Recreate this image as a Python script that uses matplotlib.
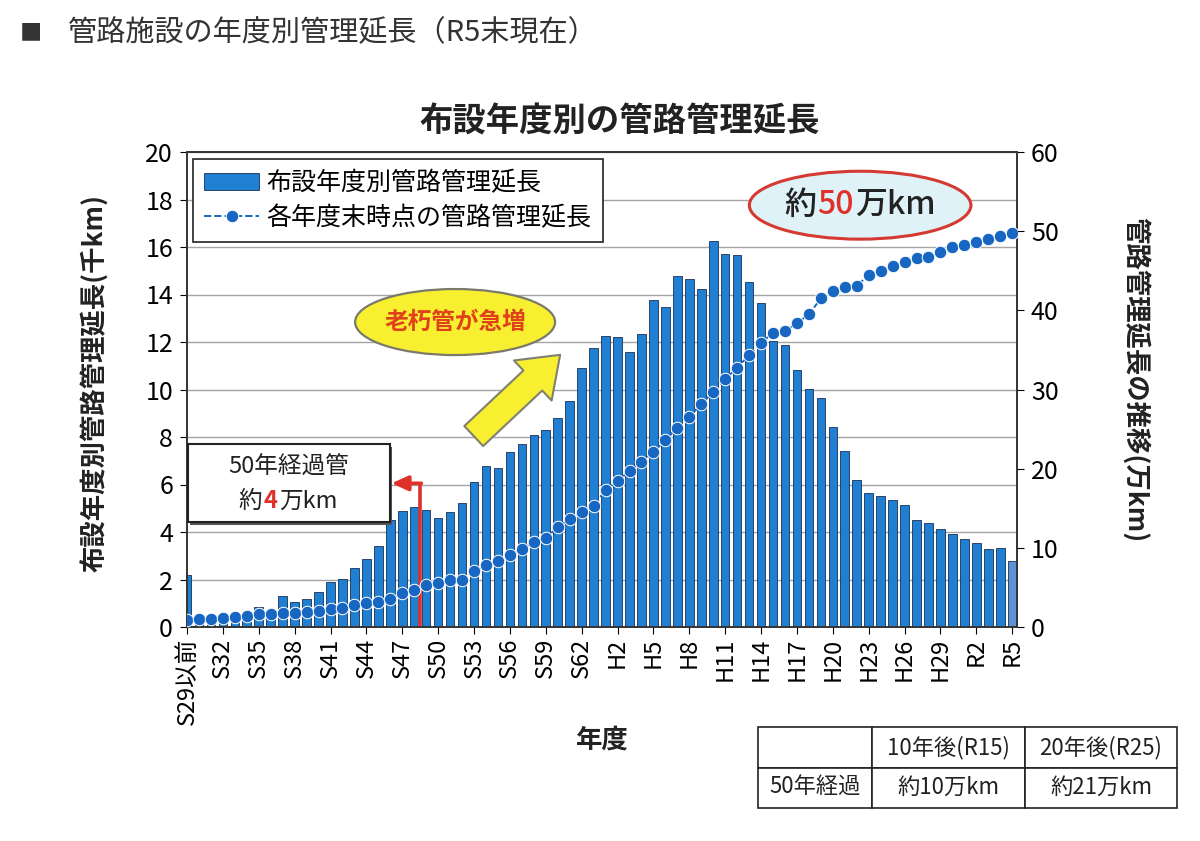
#!/usr/bin/env python3
"""管路施設の年度別管理延長 (R5末現在) chart."""

import matplotlib

matplotlib.use("Agg")
import matplotlib.pyplot as plt
from matplotlib.patches import Ellipse, Rectangle, FancyArrowPatch
from matplotlib.offsetbox import TextArea, HPacker, AnnotationBbox

plt.rcParams["font.family"] = ["Noto Sans CJK JP", "DejaVu Sans"]

# 布設年度 categories
YEARS = (
    ["S29以前"]
    + [f"S{n}" for n in range(30, 64)]
    + [f"H{n}" for n in range(1, 31)]
    + [f"R{n}" for n in range(1, 6)]
)

# 布設年度別管路管理延長 (千km)
LAID = [
    2.2, 0.3, 0.3, 0.4, 0.4, 0.5, 0.85, 0.5, 1.3, 1.05,
    1.18, 1.48, 1.88, 2.04, 2.47, 2.86, 3.41, 4.49, 4.87, 5.05,
    4.91, 4.6, 4.84, 5.24, 6.12, 6.77, 6.7, 7.37, 7.69, 8.1,
    8.31, 8.81, 9.5, 10.9, 11.75, 12.25, 12.2, 11.6, 12.35, 13.78,
    13.47, 14.77, 14.64, 14.22, 16.27, 15.72, 15.68, 14.53, 13.65, 12.04,
    11.87, 10.81, 10.01, 9.65, 8.43, 7.43, 6.17, 5.66, 5.5, 5.34,
    5.15, 4.52, 4.39, 4.14, 3.92, 3.71, 3.55, 3.27, 3.33, 2.76,
]

# 各年度末時点の管路管理延長 (万km)
TOTAL = [
    0.88, 1.01, 1.01, 1.09, 1.31, 1.39, 1.6, 1.64, 1.73, 1.81,
    1.94, 2.06, 2.23, 2.4, 2.78, 2.99, 3.2, 3.49, 4.25, 4.67,
    5.26, 5.6, 5.94, 5.94, 7.07, 7.79, 8.38, 9.09, 9.89, 10.7,
    11.2, 12.67, 13.64, 14.57, 15.33, 17.3, 18.44, 19.7, 20.8, 22.1,
    23.6, 25.2, 26.57, 28.13, 29.7, 31.3, 32.76, 34.36, 35.83, 37.18,
    37.4, 38.36, 39.5, 41.5, 42.44, 43.0, 43.1, 44.46, 44.97, 45.6,
    46.1, 46.57, 46.7, 47.33, 47.96, 48.25, 48.67, 49.0, 49.43, 49.73,
]

TABLE_ROWS = [
    ["", "10年後(R15)", "20年後(R25)"],
    ["50年経過", "約10万km", "約21万km"],
]

BAR_BLUE = "#1f7fd2"
BAR_EDGE = "#1b2f52"
DOT_BLUE = "#1666c2"
RED = "#e0302a"
YELLOW = "#f7ef2f"
INK = "#222222"

W, H = 1200, 841


def fx(px):
    return px / W


def fy(py):
    return 1 - py / H


fig = plt.figure(figsize=(12, 8.41), dpi=100)
ax = fig.add_axes([fx(187), fy(627), fx(1017 - 187), (627 - 152) / H])

x = list(range(len(YEARS)))
colors = [BAR_BLUE] * (len(x) - 1) + ["#5d93d6"]
ax.bar(x, LAID, width=0.72, color=colors, edgecolor=BAR_EDGE, linewidth=0.6,
       zorder=2, label="布設年度別管路管理延長")
ax.set_xlim(0, len(x) - 0.6)
ax.set_ylim(0, 20)
ax.set_yticks(range(0, 21, 2))
ax.set_xticks(x[::3])
ax.set_xticklabels(YEARS[::3], rotation=90, fontsize=17)
ax.tick_params(axis="y", labelsize=18, direction="out", length=5, pad=5)
ax.tick_params(axis="x", direction="out", length=5, pad=3)
ax.grid(axis="y", color="#a5a5a5", linewidth=1, zorder=0)
ax.set_axisbelow(True)
for s in ax.spines.values():
    s.set_color("#333333")
    s.set_linewidth(1.2)

ax2 = ax.twinx()
ax2.plot(x, TOTAL, linestyle="--", linewidth=1.4, color=DOT_BLUE, marker="o",
         markersize=9, markerfacecolor=DOT_BLUE, markeredgecolor="white",
         markeredgewidth=0.7, zorder=5, label="各年度末時点の管路管理延長")
ax2.set_ylim(0, 60)
ax2.set_yticks(range(0, 61, 10))
ax2.tick_params(axis="y", labelsize=18, direction="out", length=5, pad=5)
for s in ax2.spines.values():
    s.set_color("#333333")
    s.set_linewidth(1.2)

# legend
h1, l1 = ax.get_legend_handles_labels()
h2, l2 = ax2.get_legend_handles_labels()
leg = ax2.legend(h1 + h2, l1 + l2, loc="upper left",
                 bbox_to_anchor=(0.007, 0.985), fontsize=18, frameon=True,
                 fancybox=False, edgecolor=INK, framealpha=1,
                 borderpad=0.45, labelspacing=0.35, handlelength=2.2,
                 handletextpad=0.3, borderaxespad=0)
leg.get_frame().set_linewidth(1.2)
leg.set_zorder(20)

# 約50万km bubble
ax2.add_patch(Ellipse((0.811, 0.888), 0.267, 0.143, transform=ax2.transAxes,
                      facecolor="#dff2f7", edgecolor="#d43a32", linewidth=2.2,
                      zorder=10))
big = dict(fontsize=23, color=INK, fontweight="medium")
pack = HPacker(children=[TextArea("約", textprops=big),
                         TextArea("50", textprops=dict(big, color=RED)),
                         TextArea("万km", textprops=big)],
               sep=1, align="baseline")
ax2.add_artist(AnnotationBbox(pack, (0.811, 0.888), xycoords=ax2.transAxes,
                              frameon=False, zorder=11,
                              box_alignment=(0.5, 0.5)))

# 老朽管が急増 bubble and arrow
ax2.add_patch(Ellipse((0.323, 0.642), 0.241, 0.139, transform=ax2.transAxes,
                      facecolor=YELLOW, edgecolor="#7a7a6a", linewidth=1.6,
                      zorder=10))
ax2.text(0.323, 0.642, "老朽管が急増", transform=ax2.transAxes, fontsize=17,
         fontweight="bold", color="#e0401a", ha="center", va="center",
         zorder=11)
ax2.add_patch(FancyArrowPatch(
    (0.343, 0.398), (0.452, 0.577), transform=ax2.transAxes,
    arrowstyle="simple,head_width=1.1,head_length=0.75,tail_width=0.55",
    mutation_scale=36, facecolor=YELLOW, edgecolor="#808070", linewidth=1.5,
    zorder=9))

# 50年経過管 box
ax2.add_patch(Rectangle((0.004, 0.214), 0.243, 0.164, transform=ax2.transAxes,
                        facecolor="#555555", edgecolor="none", zorder=9))
ax2.add_patch(Rectangle((0.001, 0.221), 0.243, 0.164, transform=ax2.transAxes,
                        facecolor="white", edgecolor=INK, linewidth=1.5,
                        zorder=10))
ax2.text(0.122, 0.337, "50年経過管", transform=ax2.transAxes, fontsize=17,
         color=INK, ha="center", va="center", zorder=11)
small = dict(fontsize=17, color=INK)
pack2 = HPacker(children=[TextArea("約", textprops=small),
                          TextArea("4", textprops=dict(small, color=RED,
                                                       fontweight="bold")),
                          TextArea("万km", textprops=small)],
                sep=1, align="baseline")
ax2.add_artist(AnnotationBbox(pack2, (0.122, 0.266), xycoords=ax2.transAxes,
                              frameon=False, zorder=11,
                              box_alignment=(0.5, 0.5)))

# red 50-year marker line (S48 / S49 boundary)
ax.plot([19.5, 19.5], [0, 6.05], color=RED, linewidth=2.6, zorder=6,
        solid_capstyle="butt")
ax.annotate("", xy=(17.1, 6.05), xytext=(19.6, 6.05),
            arrowprops=dict(arrowstyle="-|>,head_width=0.45,head_length=1.0",
                            color=RED, linewidth=2.6, shrinkA=0, shrinkB=0),
            zorder=6)

# titles and labels
fig.text(fx(20), fy(33), "■", fontsize=16, color="#333333", va="center")
fig.text(fx(68), fy(33), "管路施設の年度別管理延長（R5末現在）", fontsize=21,
         color="#333333", va="center")
fig.text(fx(620), fy(122), "布設年度別の管路管理延長", fontsize=24,
         fontweight="bold", color=INK, ha="center", va="center")
fig.text(fx(95), fy(383), "布設年度別管路管理延長(千km)", fontsize=19,
         fontweight="bold", color=INK, rotation=90, ha="center",
         va="center")
fig.text(fx(1135), fy(380), "管路管理延長の推移(万km)", fontsize=19,
         fontweight="bold", color=INK, rotation=270, ha="center",
         va="center")
fig.text(fx(602), fy(740), "年度", fontsize=19, fontweight="bold",
         color=INK, ha="center", va="center")

# table
tax = fig.add_axes([fx(758), fy(808), fx(1177 - 758), 81 / H])
tax.axis("off")
tbl = tax.table(cellText=TABLE_ROWS, colWidths=[114, 153, 152],
                bbox=[0, 0, 1, 1], cellLoc="center")
tbl.auto_set_font_size(False)
for cell in tbl.get_celld().values():
    cell.set_fontsize(16)
    cell.set_linewidth(1.2)
    cell.set_edgecolor(INK)
    cell.get_text().set_color(INK)

fig.savefig("out.png", dpi=100)
